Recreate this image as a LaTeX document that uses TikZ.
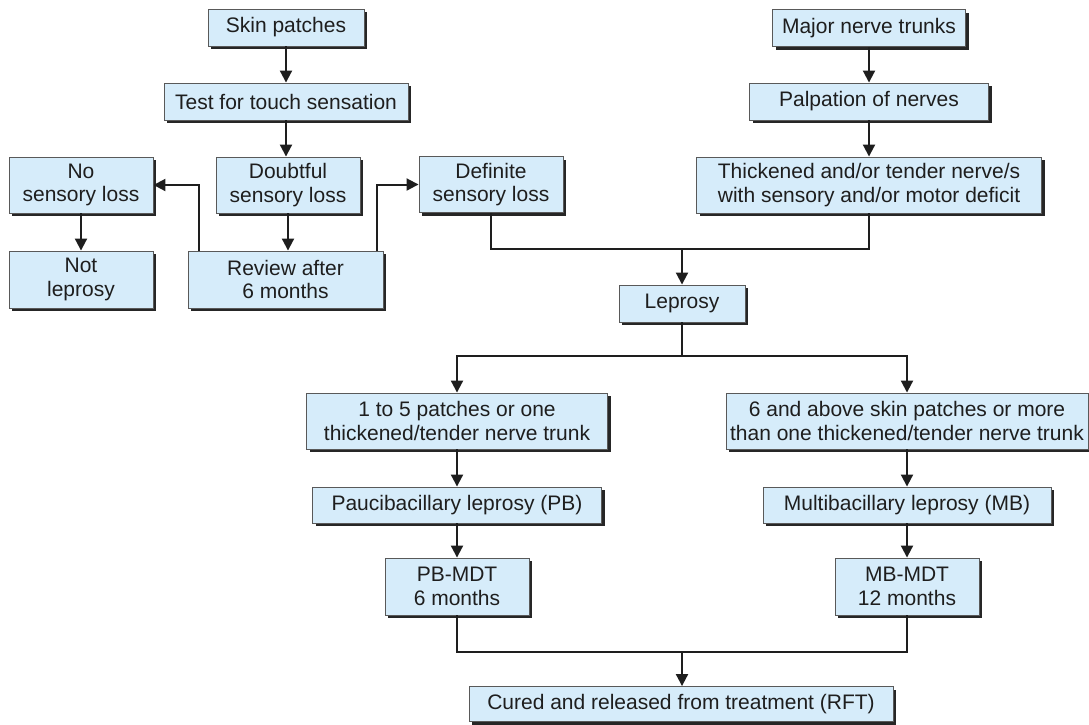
\documentclass[tikz,border=0pt]{standalone}
\usepackage{fontspec}
\setmainfont{Liberation Sans}
\usetikzlibrary{positioning, arrows.meta, shadows}
\definecolor{boxblue}{RGB}{214,236,250}
\definecolor{inkgray}{RGB}{30,30,30}

\begin{document}
\begin{tikzpicture}[x=1pt, y=-1pt, >={Triangle[length=12pt,width=12pt]},
    line width=2pt, draw=inkgray,
    box/.style={draw=black!65, line width=0.9pt, fill=boxblue, inner sep=0pt,
      align=center, text=inkgray, font=\fontsize{21}{23.5}\selectfont,
      drop shadow={shadow xshift=3pt, shadow yshift=-3pt, fill=black!85, opacity=1}}]
  \useasboundingbox (0,0) rectangle (1089,724);
  % left branch: skin patches
  \node[box, minimum width=156pt, minimum height=37pt] (sp) at (286,27.5) {Skin patches};
  \node[box, minimum width=244pt, minimum height=37pt] (tt) at (286,101.5) {Test for touch sensation};
  \node[box, minimum width=144pt, minimum height=56pt] (ds) at (288,185) {Doubtful\\sensory loss};
  \node[box, minimum width=144pt, minimum height=56pt] (ns) at (81,185) {No\\sensory loss};
  \node[box, minimum width=144pt, minimum height=57pt] (nl) at (81,279.5) {Not\\leprosy};
  \node[box, minimum width=195pt, minimum height=57pt] (rv) at (285.5,279.5) {Review after\\6 months};
  \node[box, minimum width=144pt, minimum height=56pt] (dl) at (491,184.5) {Definite\\sensory loss};
  % right branch: nerves
  \node[box, minimum width=193pt, minimum height=37pt] (mn) at (869,28) {Major nerve trunks};
  \node[box, minimum width=239pt, minimum height=37pt] (pn) at (869,101.5) {Palpation of nerves};
  \node[box, minimum width=345pt, minimum height=56pt] (tn) at (869,185) {Thickened and/or tender nerve/s\\with sensory and/or motor deficit};
  \node[box, minimum width=126pt, minimum height=37pt] (lp) at (682,303.5) {Leprosy};
  % classification and treatment
  \node[box, minimum width=301pt, minimum height=56pt] (pc) at (457,421) {1 to 5 patches or one\\thickened/tender nerve trunk};
  \node[box, minimum width=362pt, minimum height=56pt] (mc) at (907,421) {6 and above skin patches or more\\than one thickened/tender nerve trunk};
  \node[box, minimum width=289pt, minimum height=36pt] (pb) at (457,505) {Paucibacillary leprosy (PB)};
  \node[box, minimum width=288pt, minimum height=36pt] (mb) at (907,505) {Multibacillary leprosy (MB)};
  \node[box, minimum width=144pt, minimum height=57pt] (pt) at (457,586.5) {PB-MDT\\6 months};
  \node[box, minimum width=144pt, minimum height=57pt] (mt) at (907,586.5) {MB-MDT\\12 months};
  \node[box, minimum width=424pt, minimum height=35pt] (rft) at (681,704) {Cured and released from treatment (RFT)};

  \coordinate (j1) at (682,249);
  \coordinate (j2) at (682,356);
  \coordinate (j3) at (682,652);

  \draw[->] (sp) -- (tt);
  \draw[->] (tt) -- (tt |- ds.north);
  \draw[->] (ds) -- (ds |- rv.north);
  \draw[->] (ns) -- (nl);
  \draw[->] ([xshift=11pt]rv.north west) |- (ns.east);
  \draw[->] ([xshift=-6pt]rv.north east) |- (dl.west);
  \draw[->] (mn) -- (pn);
  \draw[->] (pn) -- (pn |- tn.north);
  \draw (dl.south) |- (j1) -| (tn.south);
  \draw[->] (j1) -- (lp.north);
  \draw (lp.south) -- (j2);
  \draw[->] (j2) -| (pc.north);
  \draw[->] (j2) -| (mc.north);
  \draw[->] (pc) -- (pb);
  \draw[->] (mc) -- (mb);
  \draw[->] (pb) -- (pt);
  \draw[->] (mb) -- (mt);
  \draw (pt.south) |- (j3) -| (mt.south);
  \draw[->] (j3) -- (rft.north -| j3);
\end{tikzpicture}
\end{document}
